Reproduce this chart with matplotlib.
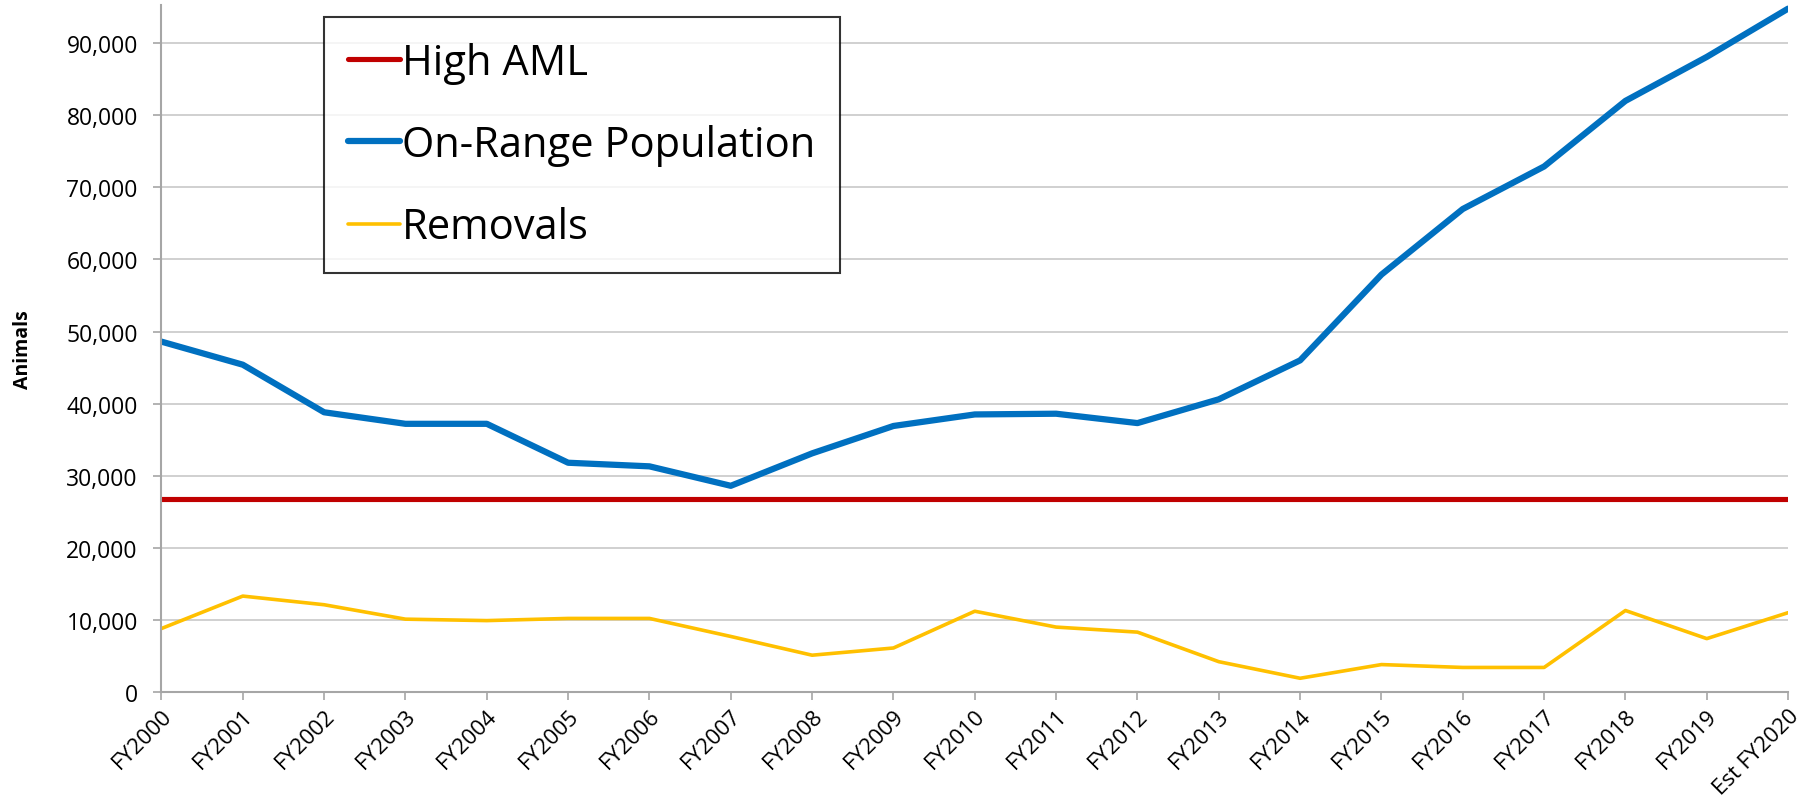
import matplotlib
matplotlib.use('Agg')
import matplotlib.pyplot as plt
from matplotlib.ticker import FuncFormatter

plt.rcParams['font.family'] = ['Open Sans', 'DejaVu Sans']

# Data
years = ['FY2000', 'FY2001', 'FY2002', 'FY2003', 'FY2004', 'FY2005', 'FY2006',
         'FY2007', 'FY2008', 'FY2009', 'FY2010', 'FY2011', 'FY2012', 'FY2013',
         'FY2014', 'FY2015', 'FY2016', 'FY2017', 'FY2018', 'FY2019', 'Est FY2020']
high_aml = [26785] * len(years)
population = [48600, 45400, 38800, 37200, 37200, 31800, 31300, 28600, 33100, 36900,
              38500, 38600, 37300, 40600, 46000, 57900, 67000, 72900, 82000, 88100, 94800]
removals = [8800, 13300, 12100, 10100, 9900, 10200, 10200, 7700, 5100, 6100,
            11200, 9000, 8300, 4200, 1900, 3800, 3400, 3400, 11300, 7400, 11000]

red = '#C00000'
blue = '#0070C0'
gold = '#FFC000'
grey = '#A6A6A6'

fig = plt.figure(figsize=(18.08, 8.12), dpi=100)
ax = fig.add_axes([0.0893, 0.1466, 0.8997, 0.8460])

x = range(len(years))
ax.plot(x, high_aml, color=red, lw=3.7, label='High AML', solid_capstyle='round')
ax.plot(x, population, color=blue, lw=4.5, label='On-Range Population',
        solid_capstyle='round', solid_joinstyle='round')
ax.plot(x, removals, color=gold, lw=2.6, label='Removals',
        solid_capstyle='round', solid_joinstyle='round')

ax.set_xlim(0, len(years) - 1)
ax.set_ylim(0, 95300)
ax.set_yticks(range(0, 90001, 10000))
ax.yaxis.set_major_formatter(FuncFormatter(lambda v, p: f'{int(v):,}'))
ax.set_xticks(list(x))
ax.set_xticklabels(years, rotation=45, ha='right', rotation_mode='anchor')

ax.grid(axis='y', color='#C8C8C8', lw=1.2)
ax.set_axisbelow(True)
for s in ['top', 'right']:
    ax.spines[s].set_visible(False)
for s in ['left', 'bottom']:
    ax.spines[s].set_color(grey)
    ax.spines[s].set_linewidth(1.5)
ax.tick_params(axis='y', colors=grey, labelcolor='black', labelsize=16.5, length=6, width=1.2, pad=11)
ax.tick_params(axis='x', colors=grey, labelcolor='black', labelsize=16, length=5.5, width=1.2, pad=4)

ax.set_ylabel('Animals', fontsize=14, fontweight='bold')
ax.yaxis.set_label_coords(-0.079, 0.5)

leg = ax.legend(loc='upper left', bbox_to_anchor=(0.0999, 0.982), borderaxespad=0,
                fontsize=30, frameon=True, fancybox=False, handlelength=1.25,
                handletextpad=0.05, labelspacing=0.97, borderpad=0.58)
leg.get_frame().set_edgecolor('black')
leg.get_frame().set_linewidth(1.5)

fig.savefig('out.png', dpi=100)
